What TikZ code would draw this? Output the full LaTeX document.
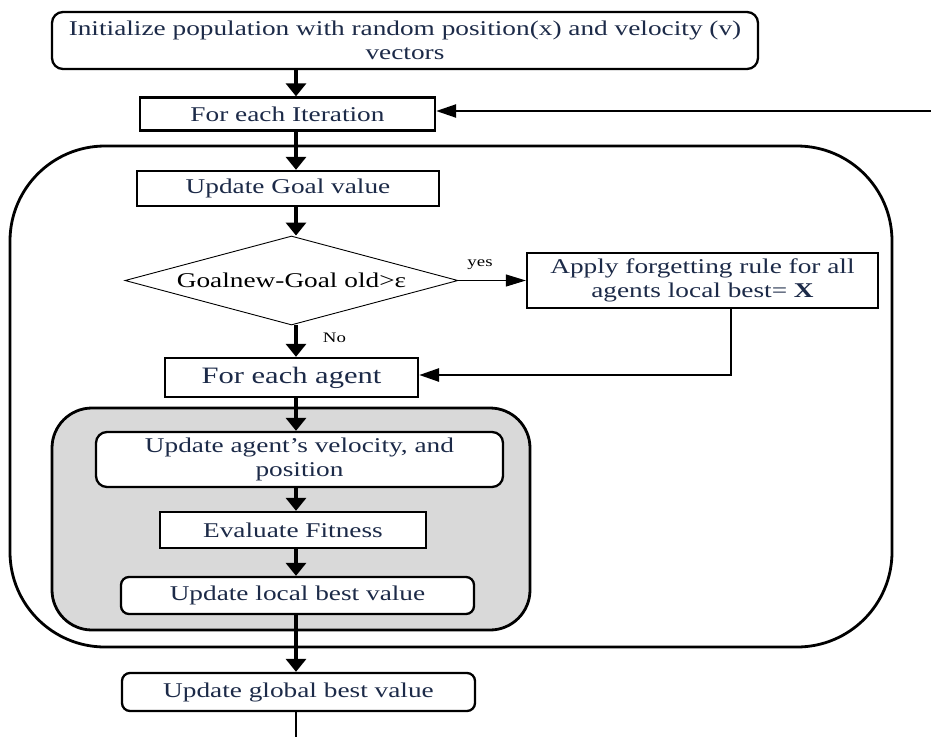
\documentclass[tikz,border=0pt]{standalone}
\usepackage{fontspec}
\setmainfont[FakeStretch=1.3]{Liberation Serif}
\usetikzlibrary{arrows.meta,shapes.geometric}
\definecolor{navy}{HTML}{1C2A48}
\definecolor{panel}{HTML}{D9D9D9}
\tikzset{
  box/.style={draw=black, line width=2.3pt, fill=white, text=navy, inner sep=0pt, align=center, font=\fontsize{21}{24}\selectfont},
  rbox/.style={box, rounded corners=11pt},
  flow/.style={line width=3.2pt, -{Triangle[length=13pt,width=20pt]}},
  hflow/.style={line width=2.3pt, -{Triangle[length=20pt,width=13pt]}},
  thinflow/.style={line width=1pt, -{Triangle[length=20pt,width=12pt]}},
  lbl/.style={font=\fontsize{14.5}{16}\selectfont, text=black},
}
\begin{document}
\begin{tikzpicture}[x=1pt,y=-1pt]
\useasboundingbox (0,0) rectangle (931,737);
% containers
\draw[line width=2.8pt, rounded corners=95pt] (10,146) rectangle (892,647);
\draw[line width=2.8pt, fill=panel, rounded corners=40pt] (52,408) rectangle (530,630);
\coordinate (spine) at (296,0);
% nodes
\node[rbox, minimum width=706pt, minimum height=57pt] (init) at (405,40.5)
  {Initialize population with random position(x) and velocity (v)\\vectors};
\node[box, minimum width=295pt, minimum height=33pt] (iter) at (287.5,114) {For each Iteration};
\node[box, minimum width=302pt, minimum height=35pt] (goal) at (288,188.5) {Update Goal value};
\node[diamond, draw=black, line width=0.9pt, fill=white, inner sep=0pt, aspect=3.7,
      minimum width=333pt, minimum height=89pt, font=\fontsize{21}{24}\selectfont] (dec) at (291.5,280.5)
  {Goalnew-Goal old>ε};
\node[box, minimum width=351pt, minimum height=55pt, font=\fontsize{21}{24}\selectfont] (apply) at (702.5,280.5)
  {Apply forgetting rule for all\\agents local best= \textbf{X}};
\node[box, minimum width=253pt, minimum height=39pt, font=\fontsize{23.5}{27}\selectfont] (agent) at (291.5,377.5) {For each agent};
\node[rbox, minimum width=407pt, minimum height=55pt] (vel) at (299.5,459.5)
  {Update agent’s velocity, and\\position};
\node[box, minimum width=266pt, minimum height=36pt] (fit) at (293,530) {Evaluate Fitness};
\node[rbox, rounded corners=8pt, minimum width=353pt, minimum height=37pt] (local) at (297.5,595.5) {Update local best value};
\node[rbox, rounded corners=8pt, minimum width=353pt, minimum height=38pt] (global) at (298.5,692) {Update global best value};
\coordinate (loopin) at (931,111);
\coordinate (out) at (296,737);
% connectors
\draw[flow] (init.south -| spine) -- (iter.north -| spine);
\draw[hflow] (loopin) -- (iter.east |- loopin);
\draw[flow] (iter.south -| spine) -- (goal.north -| spine);
\draw[flow] (goal.south -| spine) -- (dec.north -| spine);
\draw[thinflow] (dec.east) -- node[lbl, above, pos=0.32, yshift=7pt] {yes} (apply.west);
\draw[flow] (dec.south -| spine) -- node[lbl, right, pos=0.4, xshift=22pt] {No} (agent.north -| spine);
\draw[hflow, line width=2.8pt] (apply.south -| 731,0) |- (agent.east |- 0,375);
\draw[flow] (agent.south -| spine) -- (vel.north -| spine);
\draw[flow] (vel.south -| spine) -- (fit.north -| spine);
\draw[flow] (fit.south -| spine) -- (local.north -| spine);
\draw[flow] (local.south -| spine) -- (global.north -| spine);
\draw[line width=1.2pt] (global.south -| spine) -- (out);
\end{tikzpicture}
\end{document}
